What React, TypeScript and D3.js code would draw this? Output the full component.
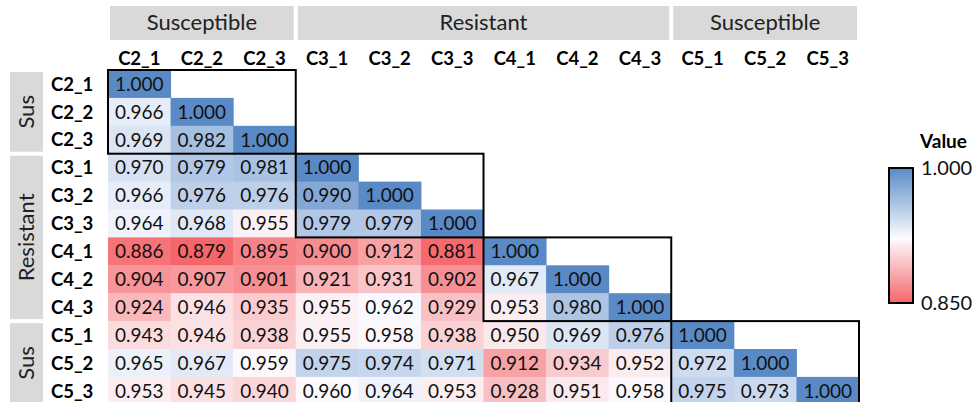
import { useEffect, useRef } from "react";
import * as d3 from "d3";

const samples = ["C2_1", "C2_2", "C2_3", "C3_1", "C3_2", "C3_3", "C4_1", "C4_2", "C4_3", "C5_1", "C5_2", "C5_3"];

// lower triangle, row by row
const values = [
  [1.0],
  [0.966, 1.0],
  [0.969, 0.982, 1.0],
  [0.97, 0.979, 0.981, 1.0],
  [0.966, 0.976, 0.976, 0.99, 1.0],
  [0.964, 0.968, 0.955, 0.979, 0.979, 1.0],
  [0.886, 0.879, 0.895, 0.9, 0.912, 0.881, 1.0],
  [0.904, 0.907, 0.901, 0.921, 0.931, 0.902, 0.967, 1.0],
  [0.924, 0.946, 0.935, 0.955, 0.962, 0.929, 0.953, 0.98, 1.0],
  [0.943, 0.946, 0.938, 0.955, 0.958, 0.938, 0.95, 0.969, 0.976, 1.0],
  [0.965, 0.967, 0.959, 0.975, 0.974, 0.971, 0.912, 0.934, 0.952, 0.972, 1.0],
  [0.953, 0.945, 0.94, 0.96, 0.964, 0.953, 0.928, 0.951, 0.958, 0.975, 0.973, 1.0],
];

const groupNames = ["Susceptible", "Resistant", "Susceptible"];
const groupShort = ["Sus", "Resistant", "Sus"];
const groupFirst = ["C2_1", "C3_1", "C5_1"];
const groupLast = ["C2_3", "C4_3", "C5_3"];

const blockFirst = ["C2_1", "C3_1", "C4_1", "C5_1"];
const blockLast = ["C2_3", "C3_3", "C4_3", "C5_3"];

const legendTicks = [0.85, 1.0];

const FONT = "Lato, 'Open Sans', sans-serif";

const App = () => {
  const svgRef = useRef<SVGSVGElement>(null);

  useEffect(() => {
    const svg = d3.select(svgRef.current);
    svg.selectAll("*").remove();

    const cellH = 27.9;
    const x = d3.scaleBand<string>().domain(samples).range([108, 859]).padding(0);
    const y = d3.scaleBand<string>().domain(samples).range([70, 70 + cellH * samples.length]).padding(0);

    const color = d3
      .scaleLinear<string>()
      .domain([0.879, 0.961, 1.0])
      .range(["#f5666a", "#fcfcff", "#5a8ac6"]);

    const cells = values.flatMap((row, i) =>
      row.map((v, j) => ({ r: samples[i], c: samples[j], v }))
    );

    // group header bars (top)
    const top = svg.append("g");
    groupNames.forEach((name, k) => {
      const x0 = x(groupFirst[k])! + 2;
      const x1 = x(groupLast[k])! + x.bandwidth() - 2;
      top.append("rect").attr("x", x0).attr("y", 6).attr("width", x1 - x0).attr("height", 34).attr("fill", "#d9d9d9");
      top
        .append("text")
        .attr("x", (x0 + x1) / 2)
        .attr("y", 30)
        .attr("text-anchor", "middle")
        .style("font-family", FONT)
        .style("font-size", "22px")
        .attr("fill", "#222")
        .text(name);
    });

    // group bars (left)
    groupShort.forEach((name, k) => {
      const y0 = y(groupFirst[k])! + 2;
      const y1 = y(groupLast[k])! + y.bandwidth() - 2;
      top.append("rect").attr("x", 10).attr("y", y0).attr("width", 33).attr("height", y1 - y0).attr("fill", "#d9d9d9");
      top
        .append("text")
        .attr("transform", `translate(34, ${(y0 + y1) / 2}) rotate(-90)`)
        .attr("text-anchor", "middle")
        .style("font-family", FONT)
        .style("font-size", "22px")
        .attr("fill", "#222")
        .text(name);
    });

    // column labels
    svg
      .append("g")
      .selectAll("text")
      .data(samples)
      .join("text")
      .attr("x", (d) => x(d)! + x.bandwidth() / 2)
      .attr("y", 65)
      .attr("text-anchor", "middle")
      .style("font-family", FONT)
      .style("font-size", "18.5px")
      .style("font-weight", "bold")
      .text((d) => d);

    // row labels
    svg
      .append("g")
      .selectAll("text")
      .data(samples)
      .join("text")
      .attr("x", 51)
      .attr("y", (d) => y(d)! + y.bandwidth() / 2)
      .attr("dy", "0.36em")
      .style("font-family", FONT)
      .style("font-size", "18.5px")
      .style("font-weight", "bold")
      .text((d) => d);

    // cells
    const g = svg.append("g");
    g.selectAll("rect")
      .data(cells)
      .join("rect")
      .attr("x", (d) => x(d.c)!)
      .attr("y", (d) => y(d.r)!)
      .attr("width", x.bandwidth() + 0.5)
      .attr("height", y.bandwidth() + 0.5)
      .attr("fill", (d) => color(d.v));

    g.selectAll("text")
      .data(cells)
      .join("text")
      .attr("x", (d) => x(d.c)! + x.bandwidth() / 2)
      .attr("y", (d) => y(d.r)! + y.bandwidth() / 2)
      .attr("dy", "0.36em")
      .attr("text-anchor", "middle")
      .style("font-family", FONT)
      .style("font-size", "19px")
      .attr("fill", "#111")
      .text((d) => d3.format(".3f")(d.v));

    // diagonal block borders
    blockFirst.forEach((b, k) => {
      const x0 = x(b)!;
      const x1 = x(blockLast[k])! + x.bandwidth();
      const y0 = y(b)!;
      const y1 = y(blockLast[k])! + y.bandwidth();
      svg
        .append("rect")
        .attr("x", x0)
        .attr("y", y0)
        .attr("width", x1 - x0)
        .attr("height", y1 - y0)
        .attr("fill", "none")
        .attr("stroke", "#000")
        .attr("stroke-width", 2);
    });

    // legend
    const ly = d3.scaleLinear().domain([0.85, 1.0]).range([303, 168]);
    const defs = svg.append("defs");
    const grad = defs
      .append("linearGradient")
      .attr("id", "value-grad")
      .attr("x1", "0%")
      .attr("x2", "0%")
      .attr("y1", "100%")
      .attr("y2", "0%");
    grad.append("stop").attr("offset", "0%").attr("stop-color", "#f5666a");
    grad.append("stop").attr("offset", "48%").attr("stop-color", "#fcfcff");
    grad.append("stop").attr("offset", "100%").attr("stop-color", "#5a8ac6");

    svg
      .append("rect")
      .attr("x", 889)
      .attr("y", ly(1.0))
      .attr("width", 24)
      .attr("height", ly(0.85) - ly(1.0))
      .attr("fill", "url(#value-grad)")
      .attr("stroke", "#000")
      .attr("stroke-width", 2);

    svg
      .append("text")
      .attr("x", 920)
      .attr("y", 148)
      .style("font-family", FONT)
      .style("font-size", "19px")
      .style("font-weight", "bold")
      .text("Value");

    svg
      .append("g")
      .selectAll("text")
      .data(legendTicks)
      .join("text")
      .attr("x", 921)
      .attr("y", (d) => ly(d))
      .attr("dy", "0.36em")
      .style("font-family", FONT)
      .style("font-size", "20px")
      .attr("fill", "#111")
      .text((d) => d3.format(".3f")(d));
  }, []);

  return <svg ref={svgRef} width={977} height={402} style={{ display: "block", position: "absolute", left: 0, top: 0 }} />;
};

export default App;
